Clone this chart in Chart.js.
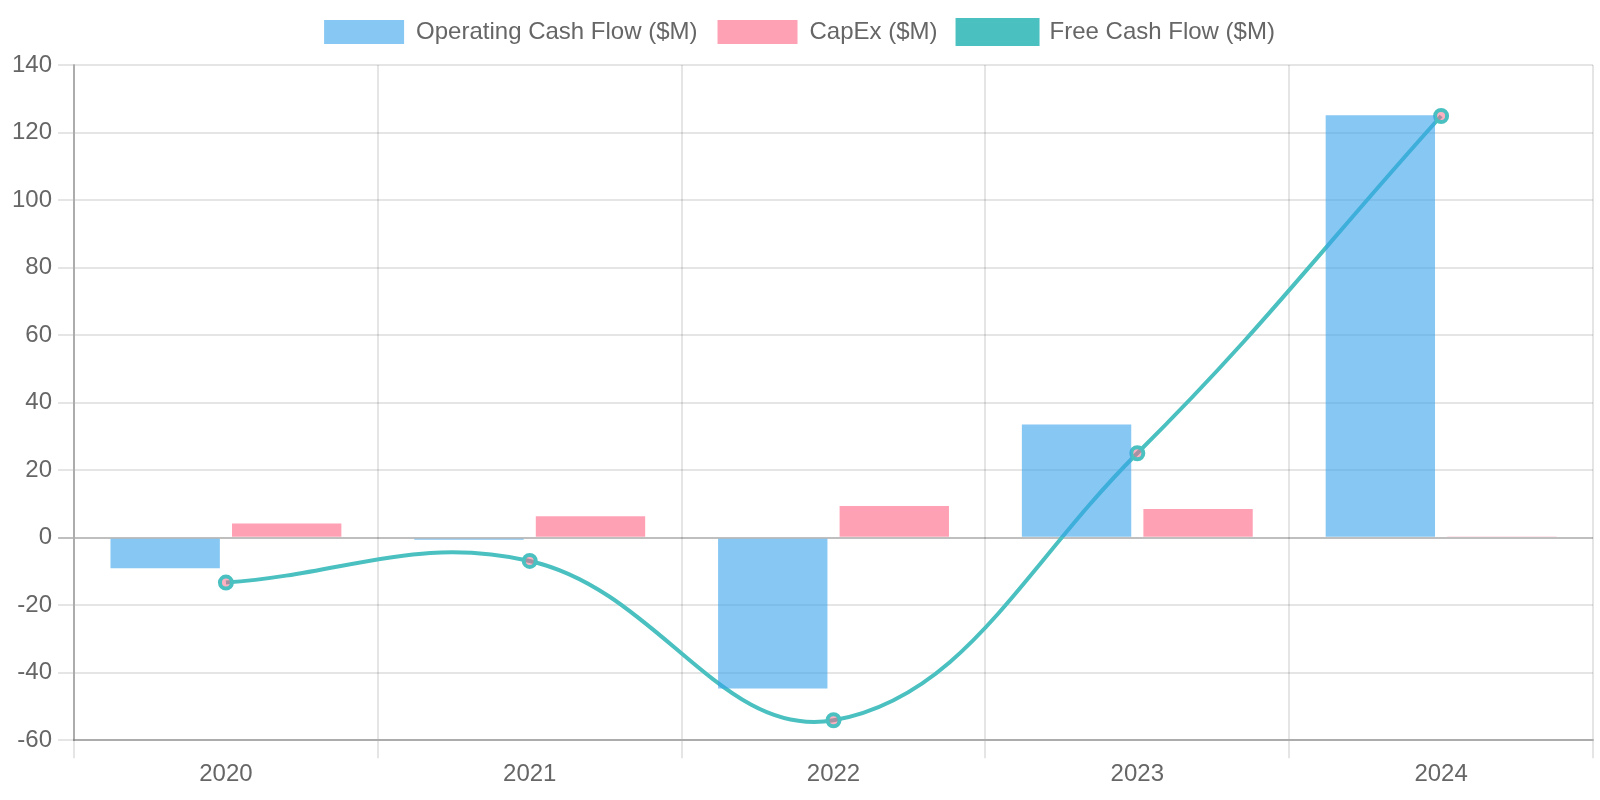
<!DOCTYPE html>
<html>
<head>
<meta charset="utf-8">
<script src="https://cdn.jsdelivr.net/npm/chart.js@4/dist/chart.umd.min.js"></script>
<style>
  html, body { margin: 0; padding: 0; background: #fff; }
  #wrap { width: 1600px; height: 800px; }
</style>
</head>
<body>
<div id="wrap"><canvas id="chart"></canvas></div>
<script>
const years = ['2020', '2021', '2022', '2023', '2024'];
const operatingCashFlow = [-9.1, -0.6, -44.7, 33.5, 125.1];
const capex = [4.2, 6.3, 9.4, 8.5, 0.2];
const freeCashFlow = [-13.3, -6.9, -54.1, 25.0, 124.9];
const yTicks = { min: -60, max: 140, step: 20 };

Chart.defaults.font.family = "'Liberation Sans', Arial, sans-serif";
Chart.defaults.font.size = 24;
Chart.defaults.color = '#666';

const gridColor = 'rgba(0,0,0,0.1)';
const axisColor = 'rgba(0,0,0,0.25)';

// a bit more room between the legend and the plot
const legendGap = {
    id: 'legendGap',
    beforeInit(chart) {
        const fit = chart.legend.fit;
        chart.legend.fit = function () {
            fit.call(this);
            this.height += 11;
        };
    }
};

new Chart(document.getElementById('chart'), {
    type: 'bar',
    data: {
        labels: years,
        datasets: [
            {label: 'Operating Cash Flow ($M)', data: operatingCashFlow,
             backgroundColor: 'rgba(54,162,235,0.6)', borderColor: 'rgba(54,162,235,0.6)', borderWidth: 0},
            {label: 'CapEx ($M)', data: capex,
             backgroundColor: 'rgba(255,99,132,0.6)', borderColor: 'rgba(255,99,132,0.6)', borderWidth: 0},
            {type: 'line', label: 'Free Cash Flow ($M)', data: freeCashFlow,
             backgroundColor: '#4BC0C0', borderColor: '#4BC0C0', borderWidth: 4, tension: 0.4,
             pointRadius: 6, pointBorderWidth: 4, pointBackgroundColor: 'rgba(255,99,132,0.5)',
             pointBorderColor: '#4BC0C0', fill: false}
        ]
    },
    options: {
        responsive: true,
        maintainAspectRatio: false,
        animation: false,
        layout: {autoPadding: false, padding: {left: 6, right: 7, top: 0, bottom: 9}},
        scales: {
            x: {
                grid: {color: gridColor, lineWidth: 2, tickLength: 18},
                border: {color: axisColor, width: 2},
                ticks: {padding: 2}
            },
            y: {
                min: yTicks.min, max: yTicks.max,
                ticks: {stepSize: yTicks.step, padding: 6},
                grid: {
                    lineWidth: 2, tickLength: 16,
                    color: ctx => ctx.tick && ctx.tick.value === 0 ? axisColor : gridColor
                },
                border: {color: axisColor, width: 2}
            }
        },
        plugins: {
            legend: {
                position: 'top',
                labels: {boxWidth: 80, boxHeight: 24, padding: 20}
            },
            tooltip: {enabled: false}
        }
    },
    plugins: [legendGap]
});
</script>
</body>
</html>
